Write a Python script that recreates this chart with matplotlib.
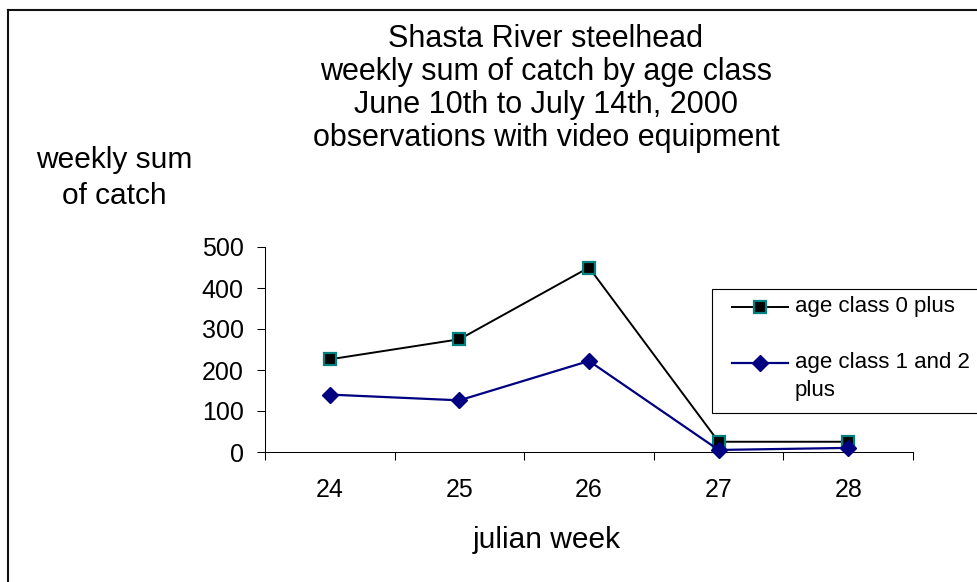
import matplotlib
matplotlib.use("Agg")
import matplotlib.pyplot as plt
from matplotlib.lines import Line2D
from matplotlib.patches import Rectangle
import numpy as np

# ---- data ----
weeks = ["24", "25", "26", "27", "28"]
age0_plus = [226, 275, 450, 25, 25]
age12_plus = [140, 126, 222, 5, 10]
series_labels = [["age class 0 plus"], ["age class 1 and 2", "plus"]]
title_lines = ["Shasta River steelhead",
               "weekly sum of catch by age class",
               "June 10th to July 14th, 2000",
               "observations with video equipment"]
y_label_lines = ["weekly sum", "of catch"]
x_label = "julian week"
y_ticks = [0, 100, 200, 300, 400, 500]

# ---- figure ----
W, H = 977, 582
plt.rcParams['font.family'] = ['Liberation Sans', 'DejaVu Sans']
fig = plt.figure(figsize=(W / 100, H / 100), dpi=100)


def fx(px):
    return px / W


def fy(py):
    return 1 - py / H


ax = fig.add_axes([fx(265), fy(452), fx(913) - fx(265), fy(247) - fy(452)])
x = np.arange(len(weeks))

s0 = dict(color='black', lw=1.4, marker='s', ms=9, mfc='black',
          mec='#008080', mew=1.6)
s1 = dict(color='#000080', lw=1.6, marker='D', ms=8, mfc='#000080',
          mec='#000080', mew=1)
ax.plot(x, age0_plus, clip_on=False, zorder=3, **s0)
ax.plot(x, age12_plus, clip_on=False, zorder=4, **s1)

ax.set_xlim(-0.5, len(weeks) - 0.5)
ax.set_ylim(0, 500)
ax.set_yticks(y_ticks)
ax.set_xticks(np.arange(len(weeks) + 1) - 0.5)
ax.set_xticklabels([])
ax.set_xticks(x, minor=True)
ax.set_xticklabels(weeks, minor=True)
ax.tick_params(axis='x', which='major', direction='out', length=5.8, width=0.75)
ax.tick_params(axis='x', which='minor', length=0, pad=19, labelsize=18)
ax.tick_params(axis='y', direction='out', length=5.8, width=0.75, pad=9.5,
               labelsize=18)
for s in ['top', 'right']:
    ax.spines[s].set_visible(False)
for s in ['left', 'bottom']:
    ax.spines[s].set_linewidth(0.75)

# ---- titles / labels ----
title_baselines = [47, 80, 113, 146]
for line, b in zip(title_lines, title_baselines):
    fig.text(fx(546), fy(b), line, ha='center', va='baseline', fontsize=22)

for line, b in zip(y_label_lines, [168, 204]):
    fig.text(fx(114), fy(b), line, ha='center', va='baseline', fontsize=21.5)

fig.text(fx(547), fy(548), x_label, ha='center', va='baseline', fontsize=21.5)

# ---- legend (drawn manually to match layout) ----
fig.add_artist(Rectangle((fx(712), fy(413)), fx(1000) - fx(712),
                         fy(289) - fy(413), transform=fig.transFigure,
                         facecolor='white', edgecolor='black', lw=0.8,
                         zorder=5))
handle_y = [306.5, 362.5]
for style, lines, hy in zip([s0, s1], series_labels, handle_y):
    st = dict(style)
    fig.add_artist(Line2D([fx(732), fx(788)], [fy(hy), fy(hy)],
                          transform=fig.transFigure,
                          color=st['color'], lw=st['lw'], zorder=6))
    st.pop('color'); st.pop('lw')
    fig.add_artist(Line2D([fx(760)], [fy(hy)], transform=fig.transFigure,
                          linestyle='none', color=style['color'], zorder=7, **st))
    for i, t in enumerate(lines):
        fig.text(fx(795), fy(hy + 5.5 + 28 * i), t, ha='left', va='baseline',
                 fontsize=16, zorder=8)

# ---- outer frame (left and top edges) ----
fig.add_artist(Line2D([fx(7.5), fx(7.5)], [fy(582), fy(10)],
                      transform=fig.transFigure, color='#111111', lw=1.5))
fig.add_artist(Line2D([fx(7.5), fx(977)], [fy(10), fy(10)],
                      transform=fig.transFigure, color='#111111', lw=1.5))

fig.savefig('out.png', dpi=100)
